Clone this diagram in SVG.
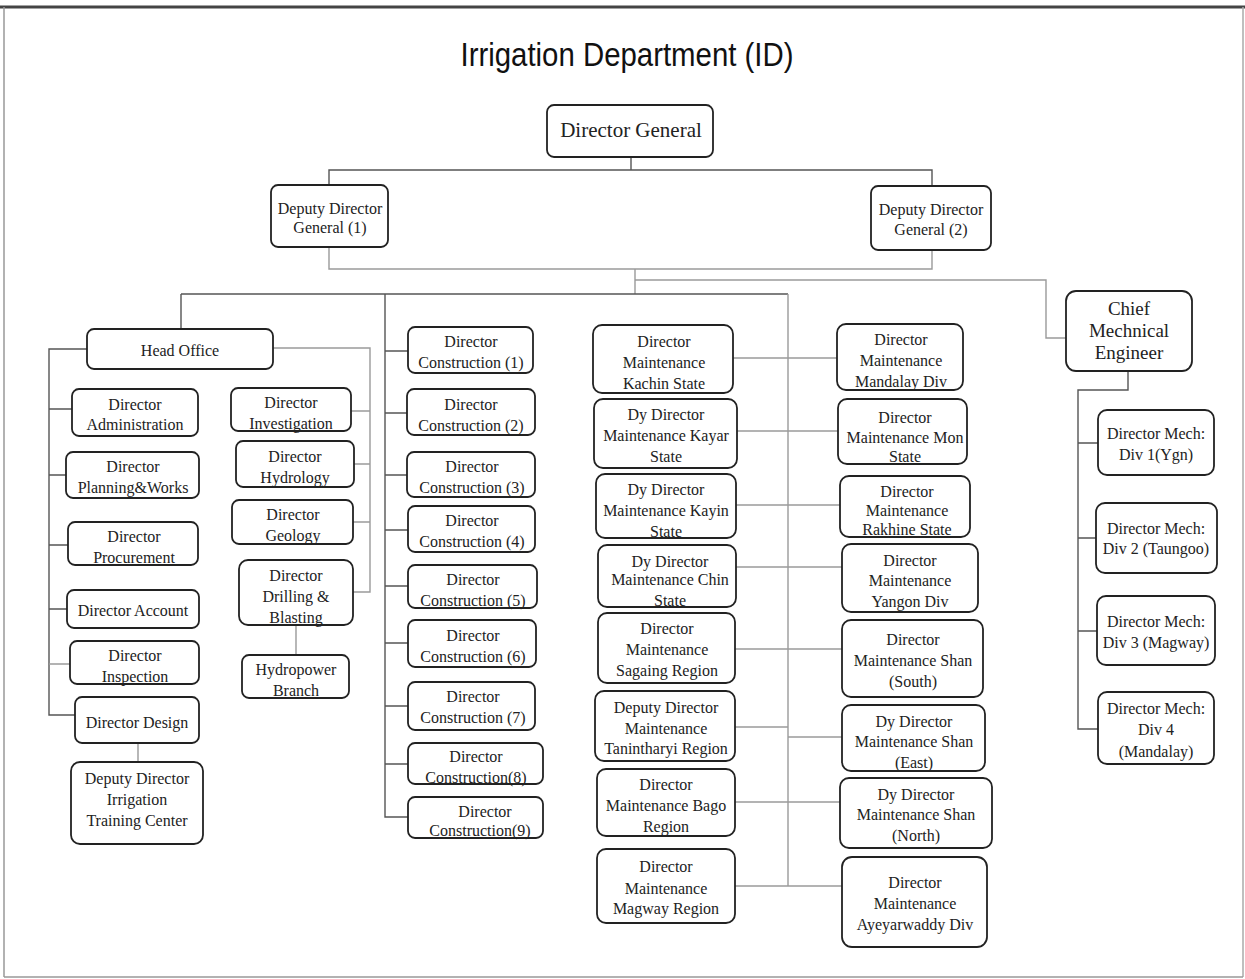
<svg xmlns="http://www.w3.org/2000/svg" width="1245" height="979" viewBox="0 0 1245 979">
<style>
.box{fill:#fff;stroke:#222;stroke-width:1.8}
.t{font-family:"Liberation Serif","Times New Roman",serif;font-size:16px;fill:#222;text-anchor:middle}
.dk{fill:none;stroke:#555;stroke-width:1.4}
.lt{fill:none;stroke:#9a9a9a;stroke-width:1.4}
</style>
<rect x="0" y="0" width="1245" height="979" fill="#fff"/>
<g id="frame">
<line x1="0" y1="7" x2="1245" y2="7" stroke="#444" stroke-width="3"/>
<line x1="4" y1="7" x2="4" y2="977" stroke="#999" stroke-width="1.5"/>
<line x1="1243" y1="7" x2="1243" y2="977" stroke="#aaa" stroke-width="1.5"/>
<line x1="4" y1="977" x2="1243" y2="977" stroke="#999" stroke-width="1.5"/>
</g>
<text x="627" y="66" font-family="'Liberation Sans',Arial,sans-serif" font-size="34" fill="#111" text-anchor="middle" textLength="333" lengthAdjust="spacingAndGlyphs">Irrigation Department (ID)</text>
<g id="connectors">
<path class="dk" d="M631 157V170M329 185V170H932V186"/>
<path class="lt" d="M329 247V269H932V250M635 269V294M635 280H1046V338H1066"/>
<path class="dk" d="M181 294H788M181 294V329M385 294V817H408"/>
<path class="lt" d="M788 294V886"/>
<path class="dk" d="M87 349H49V715H75M49 409H72M49 475H66M49 545H68M49 609H67"/>
<path class="lt" d="M49 664H70M138 743V762"/>
<path class="lt" d="M273 348H370V592H353M351 411H370M354 464H370M353 522H370M296 625V655"/>
<path class="dk" d="M385 351H408M385 413H407M385 475H407M385 530H408M385 586H408M385 643H408M385 706H408M385 764H408"/>
<path class="lt" d="M733 358H837M737 431H838M736 505H840M736 567H842M735 649H842M735 727H788M788 737H842M735 802H840M735 886H842"/>
<path class="dk" d="M1128 371V390H1078V729H1098M1078 443H1098M1078 538H1096M1078 631H1097"/>
</g>
<g id="director-general"><rect class="box" x="547" y="105" width="166" height="52" rx="7"/><text class="t" x="631" y="137" style="font-size:21px">Director General</text></g>
<g id="ddg1"><rect class="box" x="271" y="185" width="117" height="62" rx="7"/><text class="t" style="font-size:16px"><tspan x="330" y="214">Deputy Director</tspan><tspan x="330" y="233">General (1)</tspan></text></g>
<g id="ddg2"><rect class="box" x="871" y="186" width="120" height="64" rx="7"/><text class="t" style="font-size:16px"><tspan x="931" y="215">Deputy Director</tspan><tspan x="931" y="235">General (2)</tspan></text></g>
<g id="head-office"><rect class="box" x="87" y="329" width="186" height="40" rx="7"/><text class="t" x="180" y="356">Head Office</text></g>
<g id="administration"><rect class="box" x="72" y="389" width="126" height="47" rx="7"/><text class="t"><tspan x="135" y="410">Director</tspan><tspan x="135" y="430">Administration</tspan></text></g>
<g id="planning"><rect class="box" x="66" y="452" width="133" height="46" rx="7"/><text class="t"><tspan x="133" y="472">Director</tspan><tspan x="133" y="493">Planning&amp;Works</tspan></text></g>
<g id="procurement"><rect class="box" x="68" y="522" width="130" height="43" rx="7"/><text class="t"><tspan x="134" y="542">Director</tspan><tspan x="134" y="563">Procurement</tspan></text></g>
<g id="account"><rect class="box" x="67" y="590" width="132" height="38" rx="7"/><text class="t" x="133" y="616">Director Account</text></g>
<g id="inspection"><rect class="box" x="70" y="641" width="129" height="43" rx="7"/><text class="t"><tspan x="135" y="661">Director</tspan><tspan x="135" y="682">Inspection</tspan></text></g>
<g id="design"><rect class="box" x="75" y="697" width="124" height="46" rx="7"/><text class="t" x="137" y="728">Director Design</text></g>
<g id="training"><rect class="box" x="71" y="762" width="132" height="82" rx="9"/><text class="t"><tspan x="137" y="784">Deputy Director</tspan><tspan x="137" y="805">Irrigation</tspan><tspan x="137" y="826">Training Center</tspan></text></g>
<g id="investigation"><rect class="box" x="231" y="388" width="120" height="43" rx="7"/><text class="t"><tspan x="291" y="408">Director</tspan><tspan x="291" y="429">Investigation</tspan></text></g>
<g id="hydrology"><rect class="box" x="236" y="441" width="118" height="46" rx="7"/><text class="t"><tspan x="295" y="462">Director</tspan><tspan x="295" y="483">Hydrology</tspan></text></g>
<g id="geology"><rect class="box" x="232" y="500" width="121" height="44" rx="7"/><text class="t"><tspan x="293" y="520">Director</tspan><tspan x="293" y="541">Geology</tspan></text></g>
<g id="drilling"><rect class="box" x="239" y="560" width="114" height="65" rx="9"/><text class="t"><tspan x="296" y="581">Director</tspan><tspan x="296" y="602">Drilling &amp;</tspan><tspan x="296" y="623">Blasting</tspan></text></g>
<g id="hydropower"><rect class="box" x="242" y="655" width="107" height="43" rx="7"/><text class="t"><tspan x="296" y="675">Hydropower</tspan><tspan x="296" y="696">Branch</tspan></text></g>
<g id="c1"><rect class="box" x="408" y="327" width="125" height="46" rx="7"/><text class="t"><tspan x="471" y="347">Director</tspan><tspan x="471" y="368">Construction (1)</tspan></text></g>
<g id="c2"><rect class="box" x="407" y="389" width="128" height="46" rx="7"/><text class="t"><tspan x="471" y="410">Director</tspan><tspan x="471" y="431">Construction (2)</tspan></text></g>
<g id="c3"><rect class="box" x="407" y="452" width="128" height="45" rx="7"/><text class="t"><tspan x="472" y="472">Director</tspan><tspan x="472" y="493">Construction (3)</tspan></text></g>
<g id="c4"><rect class="box" x="408" y="506" width="127" height="46" rx="7"/><text class="t"><tspan x="472" y="526">Director</tspan><tspan x="472" y="547">Construction (4)</tspan></text></g>
<g id="c5"><rect class="box" x="408" y="565" width="129" height="43" rx="7"/><text class="t"><tspan x="473" y="585">Director</tspan><tspan x="473" y="606">Construction (5)</tspan></text></g>
<g id="c6"><rect class="box" x="408" y="620" width="128" height="47" rx="7"/><text class="t"><tspan x="473" y="641">Director</tspan><tspan x="473" y="662">Construction (6)</tspan></text></g>
<g id="c7"><rect class="box" x="408" y="682" width="127" height="48" rx="7"/><text class="t"><tspan x="473" y="702">Director</tspan><tspan x="473" y="723">Construction (7)</tspan></text></g>
<g id="c8"><rect class="box" x="408" y="743" width="135" height="41" rx="7"/><text class="t"><tspan x="476" y="762">Director</tspan><tspan x="476" y="783">Construction(8)</tspan></text></g>
<g id="c9"><rect class="box" x="408" y="797" width="135" height="41" rx="7"/><text class="t"><tspan x="485" y="817">Director</tspan><tspan x="480" y="836">Construction(9)</tspan></text></g>
<g id="kachin"><rect class="box" x="593" y="325" width="140" height="68" rx="9"/><text class="t"><tspan x="664" y="347">Director</tspan><tspan x="664" y="368">Maintenance</tspan><tspan x="664" y="389">Kachin State</tspan></text></g>
<g id="kayar"><rect class="box" x="594" y="399" width="143" height="69" rx="9"/><text class="t"><tspan x="666" y="420">Dy Director</tspan><tspan x="666" y="441">Maintenance Kayar</tspan><tspan x="666" y="462">State</tspan></text></g>
<g id="kayin"><rect class="box" x="596" y="474" width="140" height="64" rx="9"/><text class="t"><tspan x="666" y="495">Dy Director</tspan><tspan x="666" y="516">Maintenance Kayin</tspan><tspan x="666" y="537">State</tspan></text></g>
<g id="chin"><rect class="box" x="598" y="545" width="138" height="62" rx="9"/><text class="t"><tspan x="670" y="567">Dy Director</tspan><tspan x="670" y="585">Maintenance Chin</tspan><tspan x="670" y="606">State</tspan></text></g>
<g id="sagaing"><rect class="box" x="598" y="613" width="137" height="70" rx="9"/><text class="t"><tspan x="667" y="634">Director</tspan><tspan x="667" y="655">Maintenance</tspan><tspan x="667" y="676">Sagaing Region</tspan></text></g>
<g id="tanintharyi"><rect class="box" x="595" y="691" width="140" height="70" rx="9"/><text class="t"><tspan x="666" y="713">Deputy Director</tspan><tspan x="666" y="734">Maintenance</tspan><tspan x="666" y="754">Tanintharyi Region</tspan></text></g>
<g id="bago"><rect class="box" x="597" y="769" width="138" height="67" rx="9"/><text class="t"><tspan x="666" y="790">Director</tspan><tspan x="666" y="811">Maintenance Bago</tspan><tspan x="666" y="832">Region</tspan></text></g>
<g id="magway"><rect class="box" x="597" y="849" width="138" height="74" rx="9"/><text class="t"><tspan x="666" y="872">Director</tspan><tspan x="666" y="894">Maintenance</tspan><tspan x="666" y="914">Magway Region</tspan></text></g>
<g id="mandalay"><rect class="box" x="837" y="324" width="126" height="66" rx="9"/><text class="t"><tspan x="901" y="345">Director</tspan><tspan x="901" y="366">Maintenance</tspan><tspan x="901" y="387">Mandalay Div</tspan></text></g>
<g id="mon"><rect class="box" x="838" y="399" width="129" height="65" rx="9"/><text class="t"><tspan x="905" y="423">Director</tspan><tspan x="905" y="443">Maintenance Mon</tspan><tspan x="905" y="462">State</tspan></text></g>
<g id="rakhine"><rect class="box" x="840" y="476" width="130" height="61" rx="9"/><text class="t"><tspan x="907" y="497">Director</tspan><tspan x="907" y="516">Maintenance</tspan><tspan x="907" y="535">Rakhine State</tspan></text></g>
<g id="yangon"><rect class="box" x="842" y="544" width="136" height="68" rx="9"/><text class="t"><tspan x="910" y="566">Director</tspan><tspan x="910" y="586">Maintenance</tspan><tspan x="910" y="607">Yangon Div</tspan></text></g>
<g id="shan-south"><rect class="box" x="842" y="620" width="141" height="77" rx="9"/><text class="t"><tspan x="913" y="645">Director</tspan><tspan x="913" y="666">Maintenance Shan</tspan><tspan x="913" y="687">(South)</tspan></text></g>
<g id="shan-east"><rect class="box" x="842" y="705" width="143" height="66" rx="9"/><text class="t"><tspan x="914" y="727">Dy Director</tspan><tspan x="914" y="747">Maintenance Shan</tspan><tspan x="914" y="768">(East)</tspan></text></g>
<g id="shan-north"><rect class="box" x="840" y="778" width="152" height="70" rx="9"/><text class="t"><tspan x="916" y="800">Dy Director</tspan><tspan x="916" y="820">Maintenance Shan</tspan><tspan x="916" y="841">(North)</tspan></text></g>
<g id="ayeyarwaddy"><rect class="box" x="842" y="857" width="145" height="90" rx="10"/><text class="t"><tspan x="915" y="888">Director</tspan><tspan x="915" y="909">Maintenance</tspan><tspan x="915" y="930">Ayeyarwaddy Div</tspan></text></g>
<g id="chief"><rect class="box" x="1066" y="291" width="126" height="80" rx="10"/><text class="t" style="font-size:19px"><tspan x="1129" y="315">Chief</tspan><tspan x="1129" y="337">Mechnical</tspan><tspan x="1129" y="359">Engineer</tspan></text></g>
<g id="div1"><rect class="box" x="1098" y="410" width="116" height="65" rx="9"/><text class="t"><tspan x="1156" y="439">Director Mech:</tspan><tspan x="1156" y="460">Div 1(Ygn)</tspan></text></g>
<g id="div2"><rect class="box" x="1096" y="503" width="121" height="70" rx="9"/><text class="t"><tspan x="1156" y="534">Director Mech:</tspan><tspan x="1156" y="554">Div 2 (Taungoo)</tspan></text></g>
<g id="div3"><rect class="box" x="1097" y="596" width="118" height="69" rx="9"/><text class="t"><tspan x="1156" y="627">Director Mech:</tspan><tspan x="1156" y="648">Div 3 (Magway)</tspan></text></g>
<g id="div4"><rect class="box" x="1098" y="692" width="116" height="72" rx="9"/><text class="t"><tspan x="1156" y="714">Director Mech:</tspan><tspan x="1156" y="735">Div 4</tspan><tspan x="1156" y="757">(Mandalay)</tspan></text></g>
</svg>
